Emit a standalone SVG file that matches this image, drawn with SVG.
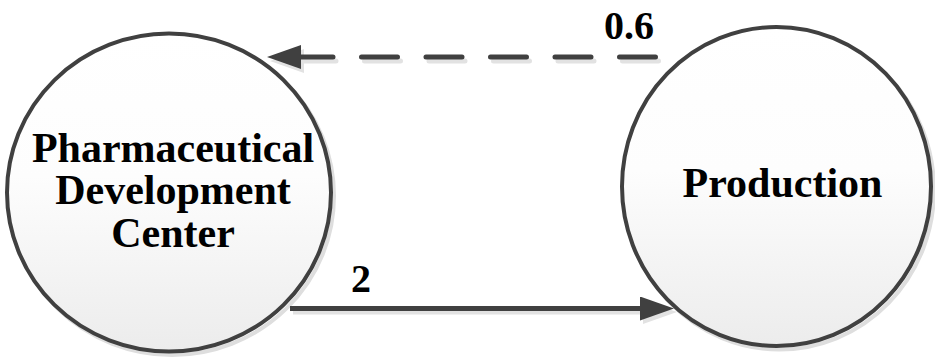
<svg xmlns="http://www.w3.org/2000/svg" width="935" height="358" viewBox="0 0 935 358">
<defs>
<linearGradient id="fillg" x1="0" y1="0" x2="0" y2="1">
<stop offset="0" stop-color="#ffffff"/>
<stop offset="0.45" stop-color="#fdfdfd"/>
<stop offset="1" stop-color="#ececec"/>
</linearGradient>
<marker id="ah" viewBox="0 0 34 24" refX="0" refY="12" markerWidth="34" markerHeight="24" markerUnits="userSpaceOnUse" orient="auto">
<path d="M0,0 L34,12 L0,24 Z" fill="#404040"/>
</marker>
<marker id="ahs" viewBox="0 0 34 24" refX="0" refY="12" markerWidth="34" markerHeight="24" markerUnits="userSpaceOnUse" orient="auto">
<path d="M0,0 L34,12 L0,24 Z" fill="#e2e2e2"/>
</marker>
</defs>
<style>
.shadow{fill:none;stroke:#dedede;stroke-width:4}
.node{fill:url(#fillg);stroke:#404040;stroke-width:4}
.lbl{font-family:"Liberation Serif","Times New Roman",serif;font-weight:bold;font-size:42px;fill:#000;text-anchor:middle}
.elbl{font-family:"Liberation Serif","Times New Roman",serif;font-weight:bold;font-size:40px;fill:#000;text-anchor:middle}
.edge{fill:none;stroke:#404040;stroke-width:5}
.edges{fill:none;stroke:#e2e2e2;stroke-width:5}
</style>
<g id="node-pdc">
<ellipse class="shadow" cx="172" cy="196" rx="162" ry="159"/>
<ellipse class="node" cx="169" cy="192.5" rx="162" ry="159"/>
<text class="lbl" x="173" y="162">Pharmaceutical</text>
<text class="lbl" x="173" y="203.5">Development</text>
<text class="lbl" x="173" y="246.5">Center</text>
</g>
<g id="node-production">
<ellipse class="shadow" cx="779.5" cy="190" rx="154.5" ry="159.5"/>
<ellipse class="node" cx="776.5" cy="186.5" rx="154.5" ry="159.5"/>
<text class="lbl" x="782.5" y="196.5">Production</text>
</g>
<g id="connectors">
<path class="edges" d="M658.5,61 L304,61" stroke-dasharray="36 28.5" stroke-linecap="round" marker-end="url(#ahs)"/>
<path class="edge" d="M655.5,57 L301,57" stroke-dasharray="36 28.5" stroke-linecap="round" marker-end="url(#ah)"/>
<path class="edges" d="M293,312 L643,312" marker-end="url(#ahs)"/>
<path class="edge" d="M290,308.5 L640,308.5" marker-end="url(#ah)"/>
<text class="elbl" x="629" y="38.5">0.6</text>
<text class="elbl" x="361" y="291.5">2</text>
</g>
</svg>
